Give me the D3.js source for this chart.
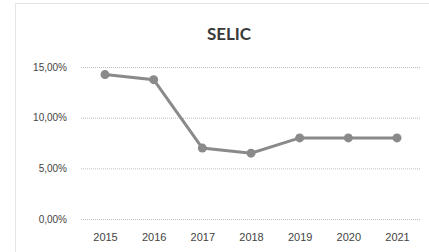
<!DOCTYPE html>
<html>
<head>
<meta charset="utf-8">
<script src="https://cdn.jsdelivr.net/npm/d3@7"></script>
<style>
  body { margin: 0; background: #fff; }
  svg { display: block; font-family: Lato, "Open Sans", sans-serif; }
</style>
</head>
<body>
<svg id="chart" width="429" height="252"></svg>
<script>
// SELIC rate per year
var years = ["2015", "2016", "2017", "2018", "2019", "2020", "2021"];
var selicValues = [14.25, 13.75, 7.0, 6.5, 8.0, 8.0, 8.0];
var yTicks = [0, 5, 10, 15];
var chartTitle = "SELIC";

var svg = d3.select("#chart");
var margin = { top: 67, right: 8, bottom: 33, left: 81 };
var width = 429 - margin.left - margin.right;
var height = 252 - margin.top - margin.bottom;

// outer frame
svg.append("rect")
    .attr("x", 15.5).attr("y", 3.5)
    .attr("width", 420).attr("height", 260)
    .attr("fill", "none")
    .attr("stroke", "#c8c8c8")
    .attr("stroke-dasharray", "1,1");

svg.append("text")
    .attr("x", 229).attr("y", 40)
    .attr("text-anchor", "middle")
    .attr("font-size", 17)
    .attr("font-weight", "bold")
    .attr("fill", "#3a3a3a")
    .text(chartTitle);

var g = svg.append("g").attr("transform", "translate(" + margin.left + "," + margin.top + ")");

var xScale = d3.scalePoint().domain(years).range([24, width - 24]);
var yScale = d3.scaleLinear().domain([0, 15]).range([height, 0]);

// gridlines
var yAxis = g.append("g")
    .call(d3.axisLeft(yScale).tickValues(yTicks).tickSize(-width)
        .tickFormat(function (d) { return d3.format(".2f")(d).replace(".", ",") + "%"; }));
yAxis.select(".domain").remove();
yAxis.selectAll("line")
    .attr("stroke", "#bdbdbd")
    .attr("stroke-dasharray", "1,1");
yAxis.selectAll("text")
    .attr("x", -14)
    .attr("font-size", 10)
    .attr("fill", "#444");

var xAxis = g.append("g")
    .attr("transform", "translate(0," + height + ")")
    .call(d3.axisBottom(xScale).tickSize(0).tickPadding(14));
xAxis.select(".domain").remove();
xAxis.selectAll("text")
    .attr("font-size", 11)
    .attr("fill", "#444");

var line = d3.line()
    .x(function (d, i) { return xScale(years[i]); })
    .y(function (d) { return yScale(d); });

g.append("path")
    .datum(selicValues)
    .attr("fill", "none")
    .attr("stroke", "#8a8a8a")
    .attr("stroke-width", 3)
    .attr("d", line);

g.selectAll("circle")
    .data(selicValues)
    .enter()
    .append("circle")
    .attr("cx", function (d, i) { return xScale(years[i]); })
    .attr("cy", function (d) { return yScale(d); })
    .attr("r", 4.5)
    .attr("fill", "#8a8a8a");
</script>
</body>
</html>
